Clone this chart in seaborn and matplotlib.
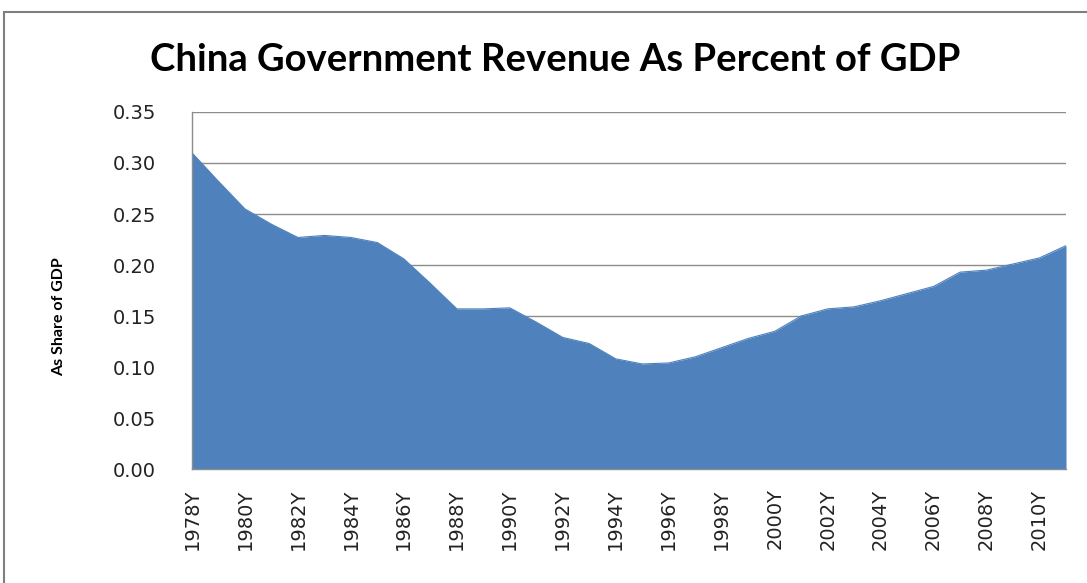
import numpy as np
import pandas as pd
import seaborn as sns
import matplotlib.pyplot as plt
from matplotlib.patches import Rectangle

# Data
years = list(range(1978, 2012))
revenue_share = [0.310, 0.282, 0.255, 0.240, 0.227, 0.229, 0.227, 0.222, 0.206, 0.182,
                 0.157, 0.157, 0.158, 0.144, 0.129, 0.123, 0.108, 0.103, 0.104, 0.110,
                 0.119, 0.128, 0.135, 0.150, 0.157, 0.159, 0.165, 0.172, 0.179, 0.193,
                 0.195, 0.201, 0.207, 0.219]
tick_years = years[::2]
tick_labels = [f"{y}Y" for y in tick_years]
y_ticks = [0.00, 0.05, 0.10, 0.15, 0.20, 0.25, 0.30, 0.35]

df = pd.DataFrame({"year": years, "share": revenue_share})

sns.set_theme(style="white")
plt.rcParams["font.family"] = ["DejaVu Sans"]

fill_color = "#4F81BD"
grid_color = "#8C8C8C"

fig = plt.figure(figsize=(10.87, 5.83), dpi=100)
ax = fig.add_axes([0.1766, 0.1955, 0.8041, 0.6124])

# -----------------
# area chart
sns.lineplot(data=df, x="year", y="share", ax=ax, color=fill_color, linewidth=0.8)
ax.fill_between(df["year"], df["share"], 0, color=fill_color, linewidth=0, zorder=2)

ax.set_xlim(years[0], years[-1])
ax.set_ylim(0, 0.35)
ax.set_yticks(y_ticks)
ax.set_yticklabels([f"{v:.2f}" for v in y_ticks])
ax.set_xticks(tick_years)
ax.set_xticklabels(tick_labels, rotation=90)
ax.tick_params(axis="x", length=0, pad=14, labelsize=14, colors="#222222")
ax.tick_params(axis="y", length=0, pad=26, labelsize=14, colors="#222222")

ax.yaxis.grid(True, color=grid_color, linewidth=1.0, zorder=0)
ax.set_axisbelow(True)
for side in ["top", "right"]:
    ax.spines[side].set_visible(False)
for side in ["left", "bottom"]:
    ax.spines[side].set_color(grid_color)
    ax.spines[side].set_linewidth(1.0)
    ax.spines[side].set_zorder(3)

ax.set_xlabel("")
ax.set_ylabel("As Share of GDP", fontsize=11.5, fontweight="bold", family="Lato", color="black")
ax.yaxis.set_label_coords(-0.144, 0.426)

# title and outer chart border
fig.text(0.5106, 0.897, "China Government Revenue As Percent of GDP", ha="center", va="center",
         fontsize=27.5, fontweight="bold", family="Lato", color="black")
fig.patches.append(Rectangle((4 / 1087, -0.1), 1.2, 1 - 12 / 583 + 0.1, transform=fig.transFigure,
                             fill=False, edgecolor="#7F7F7F", linewidth=1.5))

fig.savefig("out.png", dpi=100)
